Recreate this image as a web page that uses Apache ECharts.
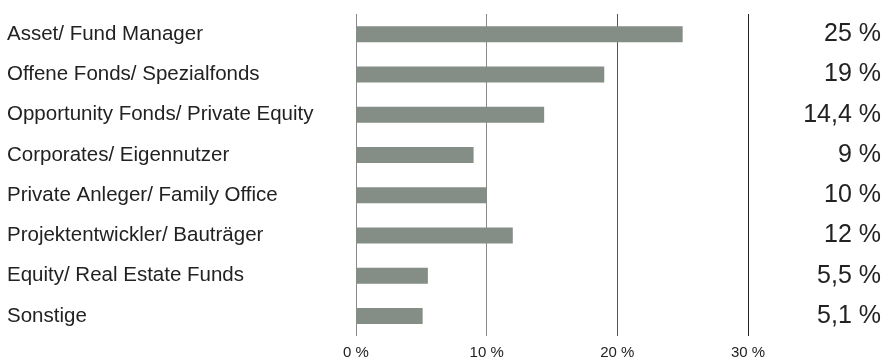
<!DOCTYPE html>
<html>
<head>
<meta charset="utf-8">
<script src="https://cdn.jsdelivr.net/npm/echarts@6/dist/echarts.min.js"></script>
<style>
  html, body { margin: 0; padding: 0; background: #ffffff; }
  #chart { width: 884px; height: 358px; }
</style>
</head>
<body>
<div id="chart"></div>
<script>
// Investor groups and their share in percent
const categories = [
  'Asset/ Fund Manager',
  'Offene Fonds/ Spezialfonds',
  'Opportunity Fonds/ Private Equity',
  'Corporates/ Eigennutzer',
  'Private Anleger/ Family Office',
  'Projektentwickler/ Bauträger',
  'Equity/ Real Estate Funds',
  'Sonstige'
];
const shares = [25, 19, 14.4, 9, 10, 12, 5.5, 5.1];
const axisTicks = [0, 10, 20, 30];

// German number format: decimal comma, space before the percent sign
const fmt = v => String(v).replace('.', ',') + ' %';
const shareLabels = shares.map(fmt);

const FONT = '"Liberation Sans", Arial, sans-serif';

const chart = echarts.init(document.getElementById('chart'), null, { renderer: 'canvas' });
chart.setOption({
  animation: false,
  backgroundColor: '#ffffff',
  grid: {
    left: 356, right: 136, top: 14, bottom: 22,
    containLabel: false,
    outerBoundsMode: 'none'
  },
  xAxis: {
    type: 'value',
    min: axisTicks[0],
    max: axisTicks[axisTicks.length - 1],
    interval: axisTicks[1] - axisTicks[0],
    axisLine: { show: false },
    axisTick: { show: false },
    axisLabel: {
      formatter: v => v + ' %',
      fontFamily: FONT,
      fontSize: 15,
      color: '#222222',
      margin: 9
    },
    splitLine: {
      show: true,
      lineStyle: { color: ['#8a8a8a', '#8a8a8a', '#555555', '#222222'], width: 1 }
    }
  },
  yAxis: [
    {
      type: 'category',
      data: categories,
      inverse: true,
      axisLine: { show: false },
      axisTick: { show: false },
      splitLine: { show: false },
      axisLabel: {
        align: 'left',
        margin: 349,
        fontFamily: FONT,
        fontSize: 20.5,
        color: '#222222'
      }
    },
    {
      type: 'category',
      position: 'right',
      data: shareLabels,
      inverse: true,
      axisLine: { show: false },
      axisTick: { show: false },
      splitLine: { show: false },
      axisLabel: {
        align: 'right',
        margin: 133,
        fontFamily: FONT,
        fontSize: 25,
        color: '#222222'
      }
    }
  ],
  series: [{
    type: 'bar',
    yAxisIndex: 0,
    data: shares,
    barWidth: 16,
    itemStyle: { color: '#858d87' },
    silent: true
  }]
});
</script>
</body>
</html>
